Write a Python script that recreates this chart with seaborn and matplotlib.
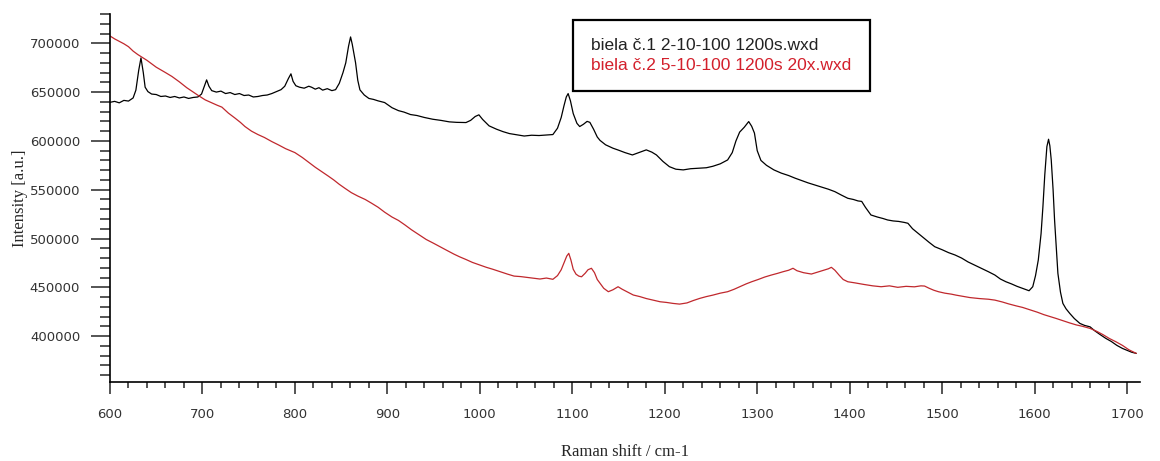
import matplotlib
matplotlib.use("Agg")
import matplotlib.pyplot as plt
from matplotlib.ticker import MultipleLocator
import seaborn as sns
import pandas as pd

# spectrum 1 (black): Raman shift, intensity
shift_1 = [600, 605, 610, 615, 620, 625, 628, 631, 633.5, 636, 638, 641, 645, 650, 655, 660, 665, 670,
           675, 680, 685, 690, 695, 699, 702, 704.5, 707, 710, 715, 720, 725, 730, 735, 740, 745, 750,
           755, 760, 765, 770, 775, 780, 785, 789, 793, 795.7, 798, 801, 805, 810, 815, 818, 822, 826,
           830, 835, 840, 844, 848, 852, 855, 858, 860.2, 862, 865.6, 868, 870.3, 875, 880, 885, 890,
           897, 905, 912, 918, 925, 932, 940, 949, 958, 967, 975, 985, 990, 995, 999, 1003, 1010, 1018,
           1025, 1032, 1040, 1048, 1056, 1064, 1072, 1079, 1084, 1088, 1091, 1093.5, 1095.5, 1098,
           1101, 1105, 1108, 1112, 1116, 1119, 1123, 1127, 1130, 1136, 1144, 1150, 1157, 1165, 1172,
           1180, 1186, 1191, 1198, 1205, 1212, 1220, 1228, 1237, 1245, 1252, 1260, 1268, 1273, 1277,
           1281, 1286, 1290.8, 1294, 1297, 1300, 1304, 1310, 1318, 1326, 1334, 1341, 1349, 1355, 1362,
           1370, 1377, 1384, 1391, 1398, 1404, 1409, 1413, 1417, 1423, 1430, 1436, 1441, 1447, 1453,
           1459, 1463, 1468, 1474, 1480, 1486, 1492, 1500, 1507, 1514, 1521, 1528, 1535, 1542, 1550,
           1557, 1563, 1569, 1575, 1581, 1587, 1591, 1594, 1598, 1601, 1604, 1607, 1609, 1611, 1613.3,
           1615.1, 1616.5, 1618, 1620, 1621.6, 1623.5, 1625.2, 1628, 1630.6, 1634, 1638, 1643, 1649,
           1654, 1660, 1665, 1671, 1677, 1683, 1689, 1695, 1700, 1705, 1710]
intensity_1 = [639500, 640500, 639000, 641500, 640800, 644000, 652000, 672000, 685000, 670000, 655000,
               650500, 648000, 647500, 645500, 646000, 644500, 645500, 644000, 645000, 643500, 644500,
               645000, 648000, 656000, 662500, 656000, 651500, 650000, 651000, 648500, 649500, 647500,
               648500, 646500, 647000, 645000, 645500, 646500, 647000, 648500, 650500, 652500, 656000,
               664000, 668700, 661000, 656500, 655000, 654000, 656000, 655000, 653000, 654500, 652000,
               653500, 651500, 652500, 659000, 670000, 680000, 697000, 706500, 699000, 680000, 662000,
               652300, 647000, 643500, 642500, 641000, 639300, 634000, 631000, 629500, 627000, 626000,
               624000, 622200, 621000, 619500, 619000, 618800, 621000, 625000, 626700, 622000, 615400,
               612000, 609500, 607500, 606200, 605000, 605800, 605500, 606000, 606500, 613000, 624000,
               636000, 645000, 648500, 641000, 628000, 618000, 614700, 617000, 620000, 619000, 612000,
               604000, 600500, 596000, 592500, 590500, 588000, 585600, 588000, 590800, 588500, 585600,
               579000, 573600, 571000, 570300, 571500, 572000, 572500, 574000, 576500, 580500, 588000,
               600000, 609000, 614000, 619800, 615000, 608000, 590000, 580000, 575000, 570300, 567000,
               564500, 561800, 559000, 557000, 554900, 552500, 550500, 548000, 544500, 541200, 540000,
               538500, 538000, 532000, 524100, 522000, 520500, 519000, 518000, 517500, 516500, 515600,
               510000, 505300, 500500, 496000, 491600, 488500, 485500, 483100, 480000, 476000, 472800,
               469500, 466000, 462600, 458500, 455700, 453500, 451000, 448900, 447500, 446500, 450600,
               462000, 478000, 505000, 532600, 565000, 594200, 601700, 595000, 580500, 550000, 519000,
               490000, 464300, 445000, 433500, 428000, 423300, 418000, 413000, 411000, 409500, 405500,
               401500, 397700, 394500, 390500, 387400, 385500, 383500, 382300]

# spectrum 2 (red)
shift_2 = [600, 605, 610, 615, 620, 625, 630, 640, 650, 660, 667, 675, 683, 690, 696, 703, 710, 716, 721,
           728, 735, 741, 746, 753, 760, 767, 775, 782, 790, 800, 808, 815, 822, 829, 836, 842, 848, 854,
           861, 868, 876, 883, 890, 897, 905, 912, 919, 926, 934, 942, 950, 958, 965, 972, 978, 985, 992,
           1000, 1007, 1014, 1022, 1030, 1037, 1044, 1051, 1058, 1065, 1072, 1079, 1084, 1088, 1091, 1094,
           1096.2, 1098.5, 1101, 1104, 1107, 1110, 1114, 1117, 1120.7, 1124, 1127, 1130, 1134, 1139, 1144,
           1149.5, 1154, 1160, 1166, 1173, 1180, 1187, 1195, 1202, 1209, 1216, 1224, 1231, 1238, 1245,
           1252, 1260, 1268, 1275, 1282, 1288, 1294, 1301, 1308, 1315, 1322, 1328, 1334, 1338.7, 1343,
           1350, 1358.6, 1365, 1372, 1377, 1380.2, 1384, 1389, 1393, 1398, 1406, 1415, 1425, 1434, 1443,
           1452, 1461, 1470, 1477, 1481, 1486, 1491, 1496, 1503, 1510, 1515, 1521, 1530, 1540, 1550, 1557,
           1565, 1572, 1580, 1587, 1595, 1603, 1610, 1617, 1623, 1630, 1638, 1645, 1652, 1660, 1667, 1674,
           1681, 1688, 1695, 1702, 1710]
intensity_2 = [707500, 704500, 702000, 699500, 696500, 692000, 688500, 682500, 675500, 670000, 666000,
               660500, 654500, 650000, 646200, 642000, 639000, 636500, 634600, 628500, 623500, 619000,
               614700, 610000, 606500, 603500, 599300, 596000, 592000, 588000, 583000, 578000, 573000,
               568500, 564000, 560000, 555500, 551500, 547000, 543500, 540000, 536100, 532000, 527000,
               522000, 518500, 513900, 509000, 504000, 499000, 495100, 491000, 487500, 484000, 481300,
               478500, 475500, 472800, 470500, 468500, 466000, 463500, 461500, 461000, 460200, 459500,
               458500, 459500, 458200, 462000, 468000, 475000, 482000, 484800, 478000, 468500, 463500,
               461500, 460800, 464500, 468000, 469500, 465000, 458000, 454100, 449000, 445500, 447500,
               450600, 448000, 445000, 442100, 440500, 438500, 437000, 435200, 434500, 433500, 432800,
               434000, 436500, 438700, 440500, 442000, 444000, 445500, 448000, 451000, 453500, 455700,
               458000, 460500, 462500, 464300, 466000, 467500, 469500, 467000, 465000, 463600, 465500,
               467500, 469000, 470500, 467500, 462000, 458000, 455700, 454500, 453000, 451500, 450600,
               451500, 450000, 451000, 450500, 451500, 451300, 449000, 447000, 445500, 444000, 443000,
               442000, 441000, 439500, 438500, 437800, 436900, 435000, 433000, 431000, 429400, 427000,
               424500, 422000, 420000, 418200, 416000, 413500, 411500, 410000, 407900, 405000, 401500,
               397500, 394200, 390500, 386000, 382300]

labels = ["biela č.1 2-10-100 1200s.wxd", "biela č.2 5-10-100 1200s 20x.wxd"]
line_colors = ["black", "#c0282d"]
text_colors = ["#222222", "#d3202c"]

df1 = pd.DataFrame({"shift": shift_1, "intensity": intensity_1})
df2 = pd.DataFrame({"shift": shift_2, "intensity": intensity_2})

sns.set_style("ticks")
fig = plt.figure(figsize=(11.6, 4.61), dpi=100)
ax = fig.add_axes([110 / 1160, 1 - 382 / 461, 1030 / 1160, 368 / 461])

sns.lineplot(data=df1, x="shift", y="intensity", ax=ax, color=line_colors[0], lw=0.9, label=labels[0])
sns.lineplot(data=df2, x="shift", y="intensity", ax=ax, color=line_colors[1], lw=0.9, label=labels[1])

ax.set_xlim(600, 1714)
ax.set_ylim(353000, 730000)
ax.xaxis.set_major_locator(MultipleLocator(100))
ax.xaxis.set_minor_locator(MultipleLocator(20))
ax.yaxis.set_major_locator(MultipleLocator(50000))
ax.yaxis.set_minor_locator(MultipleLocator(10000))
ax.set_yticks([400000, 450000, 500000, 550000, 600000, 650000, 700000])

sns.despine(ax=ax)
for s in ["left", "bottom"]:
    ax.spines[s].set_linewidth(1.2)
    ax.spines[s].set_color("black")

ax.tick_params(axis="y", which="major", direction="out", length=13.5, width=1.1, pad=8,
               labelsize=9.5, labelcolor="#333333")
ax.tick_params(axis="y", which="minor", direction="out", length=7, width=1.1)
ax.tick_params(axis="x", which="major", direction="out", length=8.5, width=1.1, pad=10,
               labelsize=9.5, labelcolor="#333333")
ax.tick_params(axis="x", which="minor", direction="out", length=4.5, width=1.1)
for t in ax.get_xticklabels() + ax.get_yticklabels():
    t.set_fontfamily("DejaVu Sans")

ax.set_xlabel("Raman shift / cm-1", fontfamily="Liberation Serif", fontsize=12, labelpad=17)
ax.set_ylabel("Intensity [a.u.]", fontfamily="Liberation Serif", fontsize=12, labelpad=1)

leg = ax.legend(loc="upper left", bbox_to_anchor=(573 / 1160, 1 - 20 / 461), bbox_transform=fig.transFigure,
                borderaxespad=0, handlelength=0, handletextpad=0, fancybox=False, framealpha=1,
                edgecolor="black", borderpad=1.05, labelspacing=0.25,
                prop={"family": "Liberation Sans", "size": 12.5})
leg.get_frame().set_linewidth(1.6)
for h in leg.legend_handles:
    h.set_visible(False)
for t, c in zip(leg.get_texts(), text_colors):
    t.set_color(c)

fig.savefig("out.png", dpi=100)
